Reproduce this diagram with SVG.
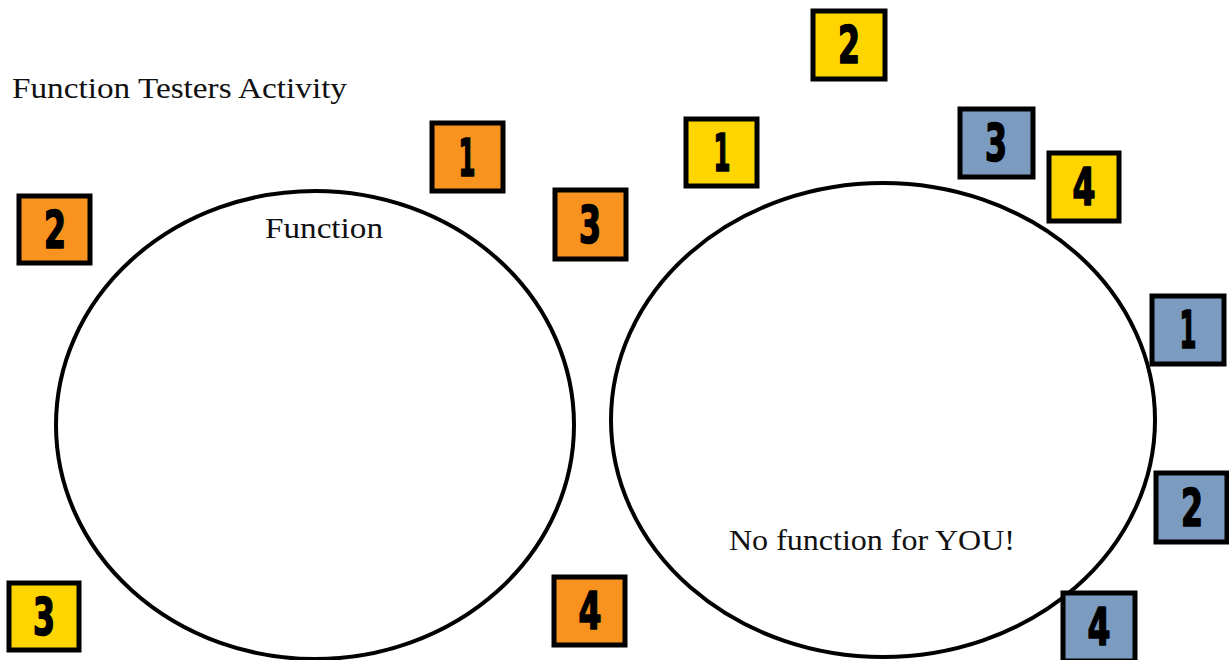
<svg xmlns="http://www.w3.org/2000/svg" width="1229" height="660" viewBox="0 0 1229 660">
  <style>
    .label { font-family: "Liberation Serif", "DejaVu Serif", serif; font-size: 30px; fill: #111; }
    .ring { fill: none; stroke: #000; stroke-width: 4; }
    .card rect { stroke: #000; stroke-width: 5; }
    .card text { font-family: "DejaVu Sans Condensed", "Liberation Sans", sans-serif; font-weight: bold; font-size: 51px; fill: #000; stroke: #000; stroke-width: 1.6; stroke-linejoin: round; text-anchor: middle; }
    .orange rect { fill: #F7931E; }
    .yellow rect { fill: #FFD500; }
    .blue rect { fill: #7B9CC0; }
  </style>
  <rect width="1229" height="660" fill="#fff"/>

  <text class="label" x="12" y="98" textLength="335" lengthAdjust="spacingAndGlyphs">Function Testers Activity</text>

  <g id="set-function">
    <ellipse class="ring" cx="315" cy="425" rx="259" ry="234"/>
    <text class="label" x="265" y="238" textLength="118" lengthAdjust="spacingAndGlyphs">Function</text>
  </g>

  <g id="set-no-function">
    <ellipse class="ring" cx="883" cy="420" rx="272" ry="237"/>
    <text class="label" x="729" y="550" textLength="286" lengthAdjust="spacingAndGlyphs">No function for YOU!</text>
  </g>

  <!-- orange cards -->
  <g id="orange-1" class="card orange"><rect x="432" y="123" width="71" height="68"/><text x="467" y="176" textLength="17" lengthAdjust="spacingAndGlyphs">1</text></g>
  <g id="orange-2" class="card orange"><rect x="19" y="196" width="71" height="67"/><text x="55" y="248" textLength="22" lengthAdjust="spacingAndGlyphs">2</text></g>
  <g id="orange-3" class="card orange"><rect x="555" y="190" width="71" height="69"/><text x="590" y="243" textLength="22" lengthAdjust="spacingAndGlyphs">3</text></g>
  <g id="orange-4" class="card orange"><rect x="554" y="577" width="71" height="68"/><text x="590" y="629" textLength="23" lengthAdjust="spacingAndGlyphs">4</text></g>

  <!-- yellow cards -->
  <g id="yellow-1" class="card yellow"><rect x="686" y="119" width="71" height="67"/><text x="722" y="171" textLength="17" lengthAdjust="spacingAndGlyphs">1</text></g>
  <g id="yellow-2" class="card yellow"><rect x="813" y="11" width="72" height="68"/><text x="849" y="63" textLength="22" lengthAdjust="spacingAndGlyphs">2</text></g>
  <g id="yellow-3" class="card yellow"><rect x="9" y="583" width="70" height="67"/><text x="44" y="635" textLength="22" lengthAdjust="spacingAndGlyphs">3</text></g>
  <g id="yellow-4" class="card yellow"><rect x="1049" y="153" width="70" height="68"/><text x="1084" y="205" textLength="23" lengthAdjust="spacingAndGlyphs">4</text></g>

  <!-- blue cards -->
  <g id="blue-1" class="card blue"><rect x="1152" y="296" width="72" height="68"/><text x="1188" y="348" textLength="17" lengthAdjust="spacingAndGlyphs">1</text></g>
  <g id="blue-2" class="card blue"><rect x="1156" y="473" width="71" height="69"/><text x="1192" y="526" textLength="22" lengthAdjust="spacingAndGlyphs">2</text></g>
  <g id="blue-3" class="card blue"><rect x="960" y="109" width="73" height="68"/><text x="996" y="161" textLength="22" lengthAdjust="spacingAndGlyphs">3</text></g>
  <g id="blue-4" class="card blue"><rect x="1063" y="593" width="72" height="68"/><text x="1099" y="645" textLength="23" lengthAdjust="spacingAndGlyphs">4</text></g>
</svg>
